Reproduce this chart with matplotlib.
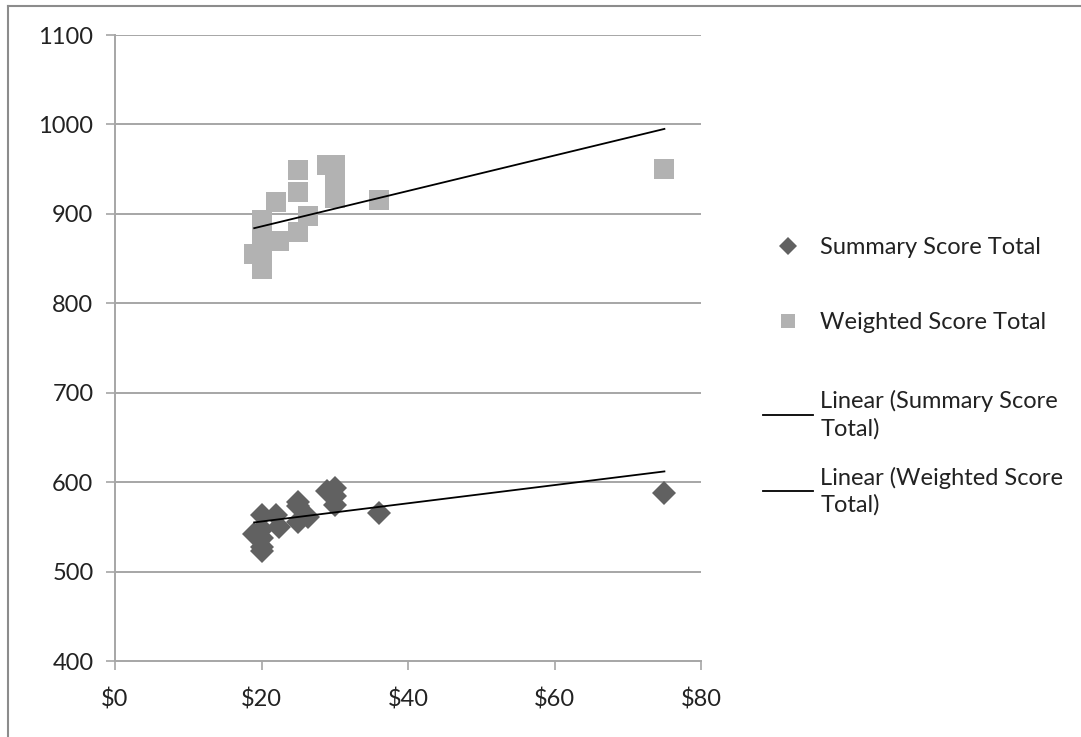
#!/usr/bin/env python

import numpy
import matplotlib
matplotlib.use('Agg')
import matplotlib.pyplot as plt
from matplotlib.lines import Line2D


# price of each item and its two score totals
price = [19, 20, 20, 20, 20, 20, 22, 22.4, 25, 25, 25, 26.3, 29, 30, 30, 30, 36, 75]
summary_total = [542, 563, 548, 537, 528, 523, 563, 550, 578, 573, 555, 561, 590, 594, 585, 575, 566, 588]
weighted_total = [855, 893, 875, 862, 848, 838, 913, 870, 949, 925, 880, 898, 955, 955, 936, 918, 915, 950]

# linear trend lines, value at the lowest and highest price
trend_price = [19, 75]
summary_trend = [555, 612]
weighted_trend = [884, 995]

x_ticks = [0, 20, 40, 60, 80]
y_ticks = [400, 500, 600, 700, 800, 900, 1000, 1100]

matplotlib.rcParams['font.family'] = ['Lato', 'DejaVu Sans']

GRID = '#a6a6a6'
DARK = '#616161'
LIGHT = '#b2b2b2'
TEXT = '#222222'


def main():
	fig = plt.figure(figsize=(10.81, 7.37), dpi=100)
	ax = fig.add_axes([0.1064, 0.1031, 0.5421, 0.8494])

	ax.plot(price, summary_total, 'D', ms=12.5, color=DARK, mec=DARK, mew=0, zorder=3)
	ax.plot(price, weighted_total, 's', ms=13.7, color=LIGHT, mec=LIGHT, mew=0, zorder=3)
	ax.plot(trend_price, summary_trend, color='black', lw=1.3, zorder=4)
	ax.plot(trend_price, weighted_trend, color='black', lw=1.3, zorder=4)

	ax.set_xlim(0, 80)
	ax.set_ylim(400, 1100)
	ax.set_xticks(x_ticks)
	ax.set_xticklabels(['$%d' % v for v in x_ticks])
	ax.set_yticks(y_ticks)

	for v in y_ticks[1:]:
		ax.axhline(v, color=GRID, lw=1.4, zorder=1)

	for s in ['top', 'right']:
		ax.spines[s].set_visible(False)
	for s in ['left', 'bottom']:
		ax.spines[s].set_color(GRID)
		ax.spines[s].set_linewidth(1.4)
	ax.tick_params(axis='both', colors=GRID, length=6.5, width=1.2, labelsize=17, labelcolor=TEXT)
	ax.tick_params(axis='y', pad=9)
	ax.tick_params(axis='x', pad=13)

	# legend: markers first, then the two trend lines
	h1 = [Line2D([], [], ls='none', marker='D', ms=9, color=DARK, mew=0),
		Line2D([], [], ls='none', marker='s', ms=10, color=LIGHT, mew=0)]
	leg1 = fig.legend(h1, ['Summary Score Total', 'Weighted Score Total'],
		loc='upper left', bbox_to_anchor=(763 / 1081.0, 1 - 237 / 737.0),
		frameon=False, fontsize=17, borderpad=0, borderaxespad=0,
		handlelength=2.1, handletextpad=0.33, labelspacing=2.29)
	h2 = [Line2D([], [], color='black', lw=1.3), Line2D([], [], color='black', lw=1.3)]
	leg2 = fig.legend(h2, ['Linear (Summary Score\nTotal)', 'Linear (Weighted Score\nTotal)'],
		loc='upper left', bbox_to_anchor=(763 / 1081.0, 1 - 390 / 737.0),
		frameon=False, fontsize=17, borderpad=0, borderaxespad=0,
		handlelength=2.1, handletextpad=0.33, labelspacing=1.15)
	for t in leg1.get_texts() + leg2.get_texts():
		t.set_color(TEXT)
	for t in leg2.get_texts():
		t.set_linespacing(1.33)

	# outer chart border
	fig.add_artist(Line2D([8 / 1081.0, 8 / 1081.0], [0, 1 - 6 / 737.0], color='#8c8c8c', lw=1.5))
	fig.add_artist(Line2D([8 / 1081.0, 1], [1 - 6 / 737.0, 1 - 6 / 737.0], color='#8c8c8c', lw=1.5))

	plt.savefig('out.png', dpi=100)


if __name__ == '__main__':
	main()
